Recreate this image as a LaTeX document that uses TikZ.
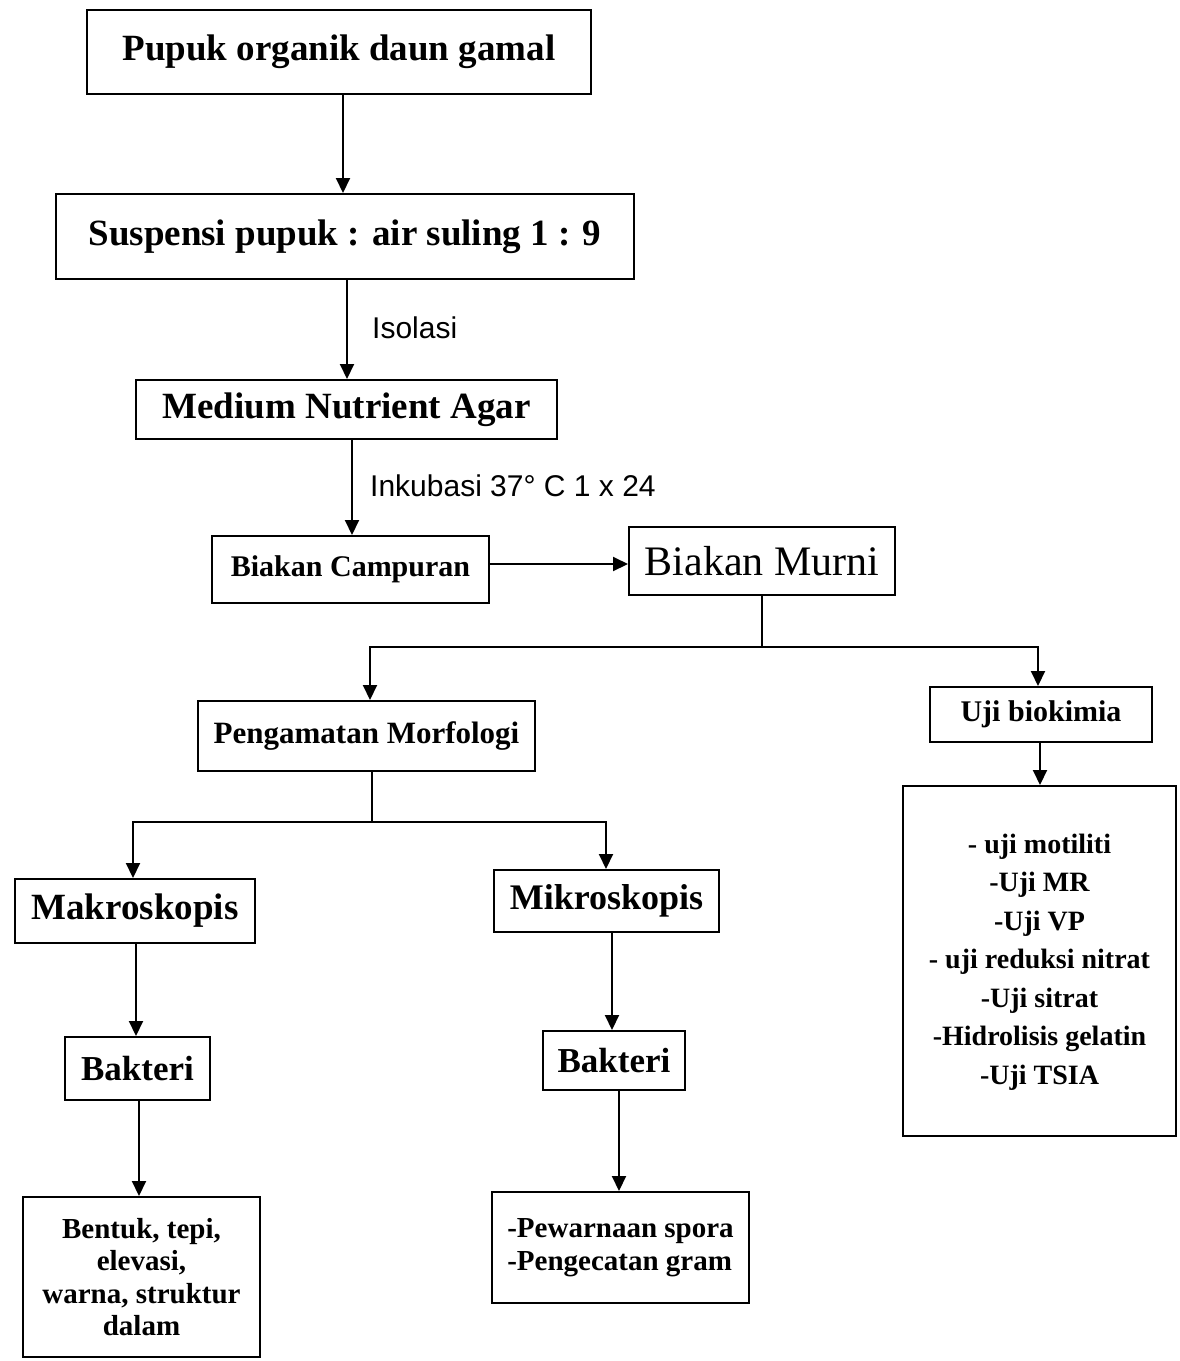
\documentclass[tikz,border=0pt]{standalone}
\usepackage{fontspec}
\setmainfont{Liberation Serif}
\newfontfamily\lsans{Liberation Sans}
\usetikzlibrary{arrows.meta}
\newcommand{\fs}[1]{\fontsize{#1}{#1}\selectfont}
\begin{document}
\begin{tikzpicture}[x=1pt,y=-1pt,
  box/.style={draw, line width=2pt, inner sep=0pt, align=center},
  arr/.style={-{Triangle[length=15pt,width=14pt]}, line width=2pt},
  ln/.style={line width=2pt},
  lbl/.style={inner sep=0pt, anchor=west, font=\lsans\fs{30}}]
\useasboundingbox[fill=white] (0,0) rectangle (1179,1361);

\node[box, minimum width=504pt, minimum height=84pt, font=\bfseries\fs{37}] (pupuk) at (339,52) {\raisebox{8pt}{Pupuk organik daun gamal}};
\node[box, minimum width=578pt, minimum height=85pt, font=\bfseries\fs{37}] (susp) at (345,236.5) {\raisebox{6pt}{Suspensi pupuk : air suling 1 : 9}};
\node[box, minimum width=421pt, minimum height=59pt, font=\bfseries\fs{37}] (med) at (346.5,409.5) {Medium Nutrient Agar};
\node[box, minimum width=277pt, minimum height=67pt, font=\bfseries\fs{30}] (camp) at (350.5,569.5) {Biakan Campuran};
\node[box, minimum width=266pt, minimum height=68pt, font=\fs{42}] (murni) at (762,561) {Biakan Murni};
\node[box, minimum width=337pt, minimum height=70pt, font=\bfseries\fs{31}] (peng) at (366.5,736) {Pengamatan Morfologi};
\node[box, minimum width=222pt, minimum height=55pt, font=\bfseries\fs{30}] (uji) at (1041,714.5) {Uji biokimia};
\node[box, minimum width=273pt, minimum height=350pt, font=\bfseries\fontsize{28}{38.5}\selectfont] (list) at (1039.5,961)
  {\raisebox{-4pt}{\begin{tabular}{@{}c@{}}- uji motiliti\\-Uji MR\\-Uji VP\\- uji reduksi nitrat\\-Uji sitrat\\-Hidrolisis gelatin\\-Uji TSIA\end{tabular}}};
\node[box, minimum width=240pt, minimum height=64pt, font=\bfseries\fs{37}] (makro) at (135,911) {Makroskopis};
\node[box, minimum width=225pt, minimum height=62pt, font=\bfseries\fs{36}] (mikro) at (606.5,901) {Mikroskopis};
\node[box, minimum width=145pt, minimum height=63pt, font=\bfseries\fs{35}] (bakL) at (137.5,1068.5) {Bakteri};
\node[box, minimum width=142pt, minimum height=59pt, font=\bfseries\fs{35}] (bakM) at (614,1060.5) {Bakteri};
\node[box, minimum width=237pt, minimum height=160pt, font=\bfseries\fontsize{29}{32.5}\selectfont] (bentuk) at (141.5,1277)
  {Bentuk, tepi,\\elevasi,\\warna, struktur\\dalam};
\node[box, minimum width=257pt, minimum height=111pt, font=\bfseries\fontsize{29}{33}\selectfont] (pew) at (620.5,1247.5)
  {\raisebox{12pt}{\begin{tabular}{@{}l@{}}-Pewarnaan spora\\-Pengecatan gram\end{tabular}}};

\node[lbl] (iso) at (372,328) {Isolasi};
\node[lbl] (ink) at (370,486) {Inkubasi 37° C 1 x 24};

\coordinate (j1) at (762,647);
\coordinate (j2) at (372,822);

\draw[arr] (pupuk.south -| 343,0) -- (susp.north -| 343,0);
\draw[arr] (susp.south -| 347,0) -- (med.north -| 347,0);
\draw[arr] (med.south -| 352,0) -- (camp.north -| 352,0);
\draw[arr] (camp.east |- 0,564) -- (murni.west |- 0,564);
\draw[ln] (murni.south) -- (j1);
\draw[arr] (j1) -| (peng.north -| 370,0);
\draw[arr] (j1) -| (uji.north -| 1038,0);
\draw[arr] (uji.south -| 1040,0) -- (list.north -| 1040,0);
\draw[ln] (peng.south -| j2) -- (j2);
\draw[arr] (j2) -| (makro.north -| 133,0);
\draw[arr] (j2) -| (mikro.north -| 606,0);
\draw[arr] (makro.south -| 136,0) -- (bakL.north -| 136,0);
\draw[arr] (mikro.south -| 612,0) -- (bakM.north -| 612,0);
\draw[arr] (bakL.south -| 139,0) -- (bentuk.north -| 139,0);
\draw[arr] (bakM.south -| 619,0) -- (pew.north -| 619,0);
\end{tikzpicture}
\end{document}
